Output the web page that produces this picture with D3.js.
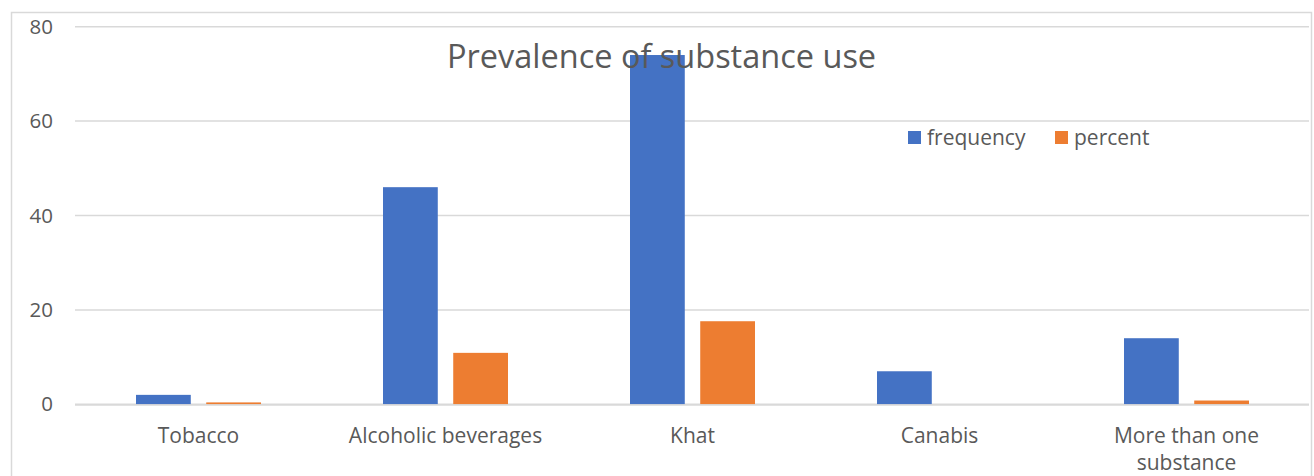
<!DOCTYPE html>
<html>
<head>
<meta charset="utf-8">
<script src="https://cdn.jsdelivr.net/npm/d3@7"></script>
<style>
	html, body { margin: 0; padding: 0; background: #fff; }
	svg { display: block; font-family: "Open Sans", sans-serif; }
</style>
</head>
<body>
<svg id="chart" width="1314" height="476"></svg>
<script>
var categories = ['Tobacco', 'Alcoholic beverages', 'Khat', 'Canabis', 'More than one substance'];
var seriesNames = ['frequency', 'percent'];
var frequency = [2, 46, 74, 7, 14];
var percent = [0.4, 10.9, 17.6, 0, 0.8];
var yTicks = [0, 20, 40, 60, 80];

var colors = { frequency: '#4472C4', percent: '#ED7D31' };
var textColor = '#595959';
var gridColor = '#d9d9d9';

var svg = d3.select('#chart');

// outer chart border
svg.append('rect')
	.attr('x', 11.5)
	.attr('y', 12.5)
	.attr('width', 1300)
	.attr('height', 480)
	.attr('fill', 'none')
	.attr('stroke', gridColor)
	.attr('stroke-width', 1.5);

var x0 = d3.scaleBand()
	.domain(categories)
	.range([75, 1310]);

var x1 = d3.scaleBand()
	.domain(seriesNames)
	.range([61, 186])
	.paddingInner(0.22);

var y = d3.scaleLinear()
	.domain([0, 80])
	.range([404.3, 26.7]);

// gridlines
svg.append('g')
	.selectAll('line')
	.data(yTicks)
	.join('line')
		.attr('x1', 75)
		.attr('x2', 1309)
		.attr('y1', function (d) { return y(d); })
		.attr('y2', function (d) { return y(d); })
		.attr('stroke', gridColor)
		.attr('stroke-width', 1.5);

// y axis labels
var yAxis = d3.axisLeft(y).tickValues(yTicks).tickSize(0).tickPadding(0);
svg.append('g')
	.attr('transform', 'translate(53,0)')
	.call(yAxis)
	.call(function (g) {
		g.select('.domain').remove();
		g.selectAll('text')
			.attr('fill', textColor)
			.style('font-size', '20.5px')
			.style('font-family', '"Open Sans", sans-serif');
	});

// bars
var rows = categories.map(function (c, i) {
	return { cat: c, values: [
		{ key: 'frequency', value: frequency[i] },
		{ key: 'percent', value: percent[i] }
	] };
});

var groups = svg.append('g')
	.selectAll('g')
	.data(rows)
	.join('g')
		.attr('transform', function (d) { return 'translate(' + x0(d.cat) + ',0)'; });

groups.selectAll('rect')
	.data(function (d) { return d.values; })
	.join('rect')
		.attr('x', function (d) { return x1(d.key); })
		.attr('y', function (d) { return y(d.value); })
		.attr('width', x1.bandwidth())
		.attr('height', function (d) { return y(0) - y(d.value); })
		.attr('fill', function (d) { return colors[d.key]; });

// baseline redrawn over bars
svg.append('line')
	.attr('x1', 75)
	.attr('x2', 1309)
	.attr('y1', y(0) + 0.8)
	.attr('y2', y(0) + 0.8)
	.attr('stroke', gridColor)
	.attr('stroke-width', 1.5);

// x labels
var xLabels = {
	'More than one substance': ['More than one', 'substance']
};
svg.append('g')
	.selectAll('text')
	.data(categories)
	.join('text')
		.attr('x', function (d) { return x0(d) + x0.bandwidth() / 2; })
		.attr('y', 443)
		.attr('text-anchor', 'middle')
		.attr('fill', textColor)
		.style('font-size', '21px')
		.each(function (d) {
			var lines = xLabels[d] || [d];
			var t = d3.select(this);
			lines.forEach(function (l, i) {
				t.append('tspan')
					.attr('x', x0(d) + x0.bandwidth() / 2)
					.attr('dy', i === 0 ? 0 : 27)
					.text(l);
			});
		});

// title
svg.append('text')
	.attr('x', 661.5)
	.attr('y', 68)
	.attr('text-anchor', 'middle')
	.attr('fill', textColor)
	.style('font-size', '32.5px')
	.text('Prevalence of substance use');

// legend
var legendPos = [908, 1055];
var legend = svg.append('g')
	.selectAll('g')
	.data(seriesNames)
	.join('g')
		.attr('transform', function (d, i) { return 'translate(' + legendPos[i] + ',131)'; });

legend.append('rect')
	.attr('width', 13)
	.attr('height', 13)
	.attr('fill', function (d) { return colors[d]; });

legend.append('text')
	.attr('x', 19)
	.attr('y', 13.5)
	.attr('fill', textColor)
	.style('font-size', '21px')
	.text(function (d) { return d; });
</script>
</body>
</html>
